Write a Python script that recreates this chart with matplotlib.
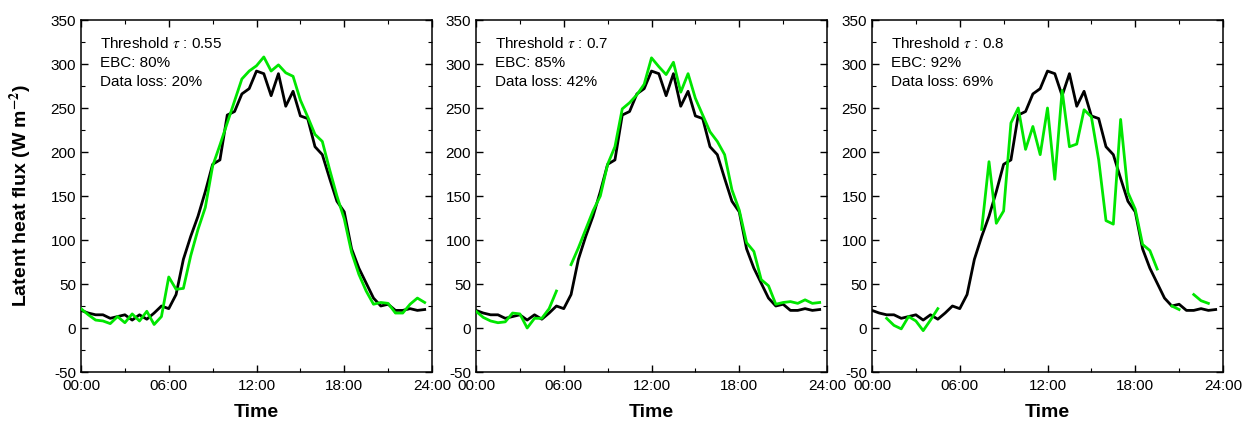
#!/usr/bin/env python3
# Latent heat flux: reference series vs. filtered series for three thresholds.

import numpy as np
import matplotlib
matplotlib.use("Agg")
import matplotlib.pyplot as plt
from matplotlib.ticker import MultipleLocator

plt.rcParams["font.family"] = ["Liberation Sans", "DejaVu Sans"]
plt.rcParams["mathtext.fontset"] = "stix"
plt.rcParams["axes.unicode_minus"] = False

nan = np.nan

# half-hourly time stamps, hours since midnight
HOURS = np.arange(0, 24, 0.5)
TICK_HOURS = [0, 6, 12, 18, 24]
TICK_LABELS = ["00:00", "06:00", "12:00", "18:00", "24:00"]

# reference latent heat flux (black line), W m-2
LE_REF = [
    20, 17, 15, 15, 11, 13, 15, 9, 15, 10, 17, 25,
    22, 38, 78, 104, 127, 155, 186, 191, 242, 246, 266, 272,
    292, 289, 264, 289, 252, 269, 241, 238, 206, 197, 170, 144,
    132, 90, 68, 51, 34, 25, 27, 20, 20, 22, 20, 21,
]

# filtered series (green line) for each threshold
LE_055 = [
    22, 15, 9, 8, 5, 13, 6, 16, 8, 19, 4, 13,
    58, 44, 45, 82, 112, 137, 184, 208, 233, 258, 283, 292,
    298, 308, 292, 299, 290, 286, 259, 240, 220, 212, 180, 150,
    124, 86, 61, 42, 27, 29, 28, 17, 17, 27, 34, 29,
]
LE_07 = [
    19, 12, 8, 6, 7, 17, 16, 0, 11, 11, 22, 42,
    nan, 72, 91, 112, 133, 150, 186, 206, 249, 256, 265, 277,
    307, 297, 288, 302, 268, 289, 261, 242, 223, 212, 197, 157,
    134, 97, 87, 55, 48, 27, 29, 30, 28, 32, 28, 29,
]
LE_08 = [
    nan, nan, 11, 3, -1, 13, 8, -3, 9, 22, nan, nan,
    nan, nan, nan, 112, 189, 119, 133, 233, 250, 203, 229, 197,
    250, 169, 270, 206, 209, 248, 240, 191, 122, 118, 237, 154,
    135, 95, 88, 67, nan, 25, 21, nan, 38, 31, 28, nan,
]

THRESHOLDS = ["0.55", "0.7", "0.8"]
EBC = [80, 85, 92]
DATA_LOSS = [20, 42, 69]
FILTERED = [LE_055, LE_07, LE_08]

GREEN = "#00e600"

fig = plt.figure(figsize=(12.55, 4.28), dpi=100)
lefts = [81 / 1255, 476 / 1255, 872 / 1255]
width = 351 / 1255
bottom = 1 - 372 / 428
height = 352 / 428

axes = []
for i, left in enumerate(lefts):
    ax = fig.add_axes([left, bottom, width, height])
    axes.append(ax)

    ax.plot(HOURS, LE_REF, color="black", lw=2, zorder=2)
    ax.plot(HOURS, FILTERED[i], color=GREEN, lw=2, zorder=3)

    ax.set_xlim(0, 24)
    ax.set_ylim(-50, 350)
    ax.set_xticks(TICK_HOURS)
    ax.set_xticklabels(TICK_LABELS)
    ax.xaxis.set_minor_locator(MultipleLocator(3))
    ax.yaxis.set_major_locator(MultipleLocator(50))
    ax.yaxis.set_minor_locator(MultipleLocator(25))
    ax.tick_params(which="both", direction="in", top=True, right=True, labelsize=11)
    ax.tick_params(which="major", length=5, width=1)
    ax.tick_params(which="minor", length=3, width=0.8)
    ax.tick_params(axis="x", pad=5)
    for sp in ax.spines.values():
        sp.set_linewidth(1.1)

    ax.set_xlabel("Time", fontsize=14, fontweight="bold", labelpad=8)

    lines = [
        f"Threshold $\\tau$ : {THRESHOLDS[i]}",
        f"EBC: {EBC[i]}%",
        f"Data loss: {DATA_LOSS[i]}%",
    ]
    for k, s in enumerate(lines):
        ax.text(0.055, 0.933 - 0.055 * k, s, transform=ax.transAxes,
                fontsize=11, ha="left", va="center")

axes[0].set_ylabel("Latent heat flux (W m$^{\\mathbf{-2}}$)", fontsize=14,
                   fontweight="bold", labelpad=12)

fig.savefig("out.png", dpi=100)
